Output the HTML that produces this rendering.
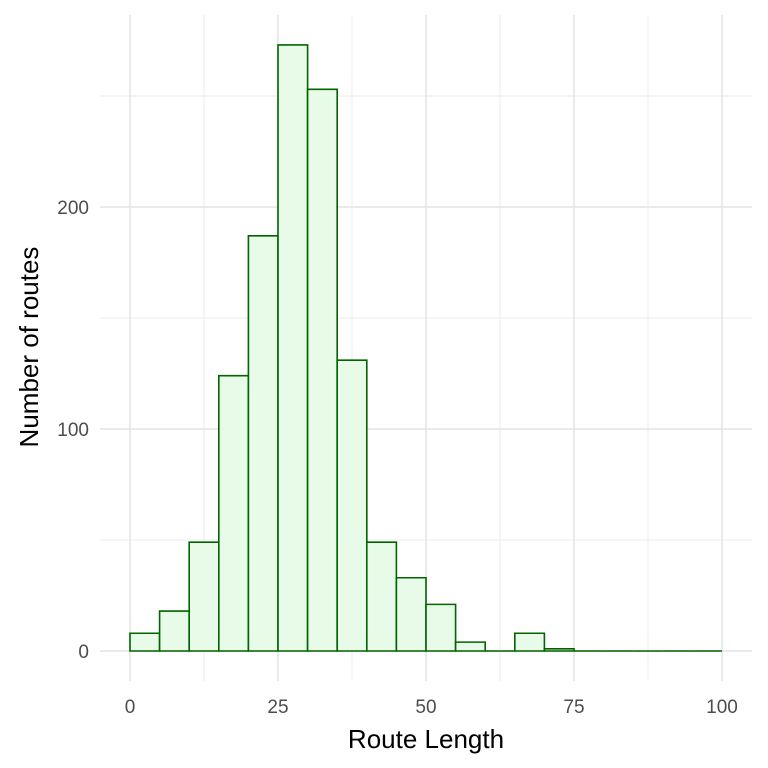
<!DOCTYPE html>
<html><head><meta charset="utf-8"><style>
body{margin:0;background:#fff;}
svg{display:block;font-family:"Liberation Sans",Arial,sans-serif;}
</style></head><body>
<svg id="chart" width="768" height="768" viewBox="0 0 768 768">
<rect width="768" height="768" fill="#fff"/>
<g id="grid"></g>
<g id="bars"></g>
<g id="axes"></g>
<text x="426" y="748" text-anchor="middle" font-size="26" fill="#000">Route Length</text>
<text transform="translate(38,347) rotate(-90)" text-anchor="middle" font-size="26" fill="#000">Number of routes</text>
</svg>
<script>
const binStarts=[0,5,10,15,20,25,30,35,40,45,50,55,60,65,70,75,80,85,90,95];
const counts=[8,18,49,124,187,273,253,131,49,33,21,4,0,8,1,0,0,0,0,0];
const xTicks=[0,25,50,75,100];
const yTicks=[0,100,200];
const binWidth=5;
const X=v=>130+v*5.92;
const Y=v=>651-v*2.22;
const NS="http://www.w3.org/2000/svg";
function mk(tag,attrs,parent){const e=document.createElementNS(NS,tag);for(const k in attrs)e.setAttribute(k,attrs[k]);parent.appendChild(e);return e;}
const grid=document.getElementById('grid'),bars=document.getElementById('bars'),axes=document.getElementById('axes');
const L=100,R=752,T=15,B=681;
[12.5,37.5,62.5,87.5].forEach(v=>{const l=mk('line',{x1:X(v),x2:X(v),y1:T,y2:B,stroke:'#ebebeb','stroke-width':1},grid);

});
[50,150,250].forEach(v=>{const l=mk('line',{x1:L,x2:R,y1:Y(v),y2:Y(v),stroke:'#ebebeb','stroke-width':1},grid);

});
xTicks.forEach(v=>{const l=mk('line',{x1:X(v),x2:X(v),y1:T,y2:B,stroke:'#e3e3e3','stroke-width':1.5},grid);


const t=mk('text',{x:X(v),y:713,'text-anchor':'middle','font-size':19,fill:'#4d4d4d'},axes);t.textContent=v;

});
yTicks.forEach(v=>{const l=mk('line',{x1:L,x2:R,y1:Y(v),y2:Y(v),stroke:'#e3e3e3','stroke-width':1.5},grid);


const t=mk('text',{x:89,y:Y(v)+7,'text-anchor':'end','font-size':19,fill:'#4d4d4d'},axes);t.textContent=v;

});
binStarts.forEach((s,i)=>{const x0=X(s),x1=X(s+binWidth),y=Y(counts[i]),y0=Y(0);
const r=mk('path',{d:`M${x0},${y0}L${x0},${y}L${x1},${y}L${x1},${y0}Z`,fill:'#e8fbe8',stroke:'#006400','stroke-width':1.6},bars);

});
</script>
</body></html>
